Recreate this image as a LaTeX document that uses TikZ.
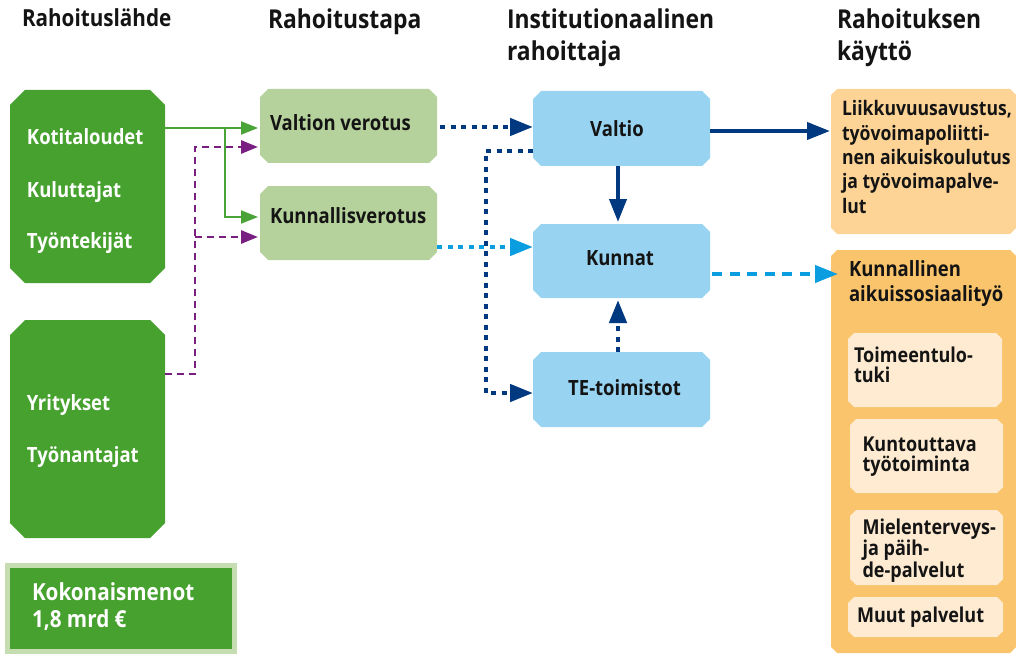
\documentclass[tikz,border=0pt]{standalone}
\usepackage{fontspec}
\setmainfont{Open Sans}[FakeStretch=0.88]
\usetikzlibrary{calc,arrows.meta}

\definecolor{srcgreen}{HTML}{47A12F}
\definecolor{taxgreen}{HTML}{B6D29C}
\definecolor{rimgreen}{HTML}{C5DDB0}
\definecolor{linegreen}{HTML}{4AA337}
\definecolor{boxblue}{HTML}{98D4F1}
\definecolor{navyline}{HTML}{00397F}
\definecolor{skyline}{HTML}{0A9EE0}
\definecolor{purpleline}{HTML}{7A1F82}
\definecolor{useorange}{HTML}{FDD496}
\definecolor{socorange}{HTML}{F9C46B}
\definecolor{servcream}{HTML}{FEEBD2}
\definecolor{inktext}{HTML}{141414}

% fill the outline of node #1 with corners cut by #2, in colour #3
\newcommand\cutbox[3]{%
  \fill[#3] ($(#1.north west)+(#2,0)$) -- ($(#1.north east)+(-#2,0)$)
    -- ($(#1.north east)+(0,#2)$) -- ($(#1.south east)+(0,-#2)$)
    -- ($(#1.south east)+(-#2,0)$) -- ($(#1.south west)+(#2,0)$)
    -- ($(#1.south west)+(0,-#2)$) -- ($(#1.north west)+(0,#2)$) -- cycle;}

\tikzset{
  slot/.style={rectangle, inner sep=0pt, outer sep=0pt, draw=none},
  txt/.style={anchor=base west, inner sep=0pt, outer sep=0pt, align=left,
    text=inktext, font=\bfseries\fontsize{21}{24.3}\selectfont},
  whitetxt/.style={txt, text=white},
  ctxt/.style={txt, anchor=base},
  smalltxt/.style={txt, font=\bfseries\fontsize{20.5}{20}\selectfont},
  hdr/.style={txt, font=\bfseries\fontsize{26}{32}\selectfont},
  smalltip/.style={-{Triangle[length=17pt,width=13pt]}},
  bigtip/.style={-{Triangle[length=23pt,width=17pt]}},
  gline/.style={draw=linegreen, line width=2pt, smalltip, shorten >=2pt},
  pline/.style={draw=purpleline, line width=2.8pt, dash pattern=on 7pt off 5pt,
    smalltip, shorten >=2pt},
  navydot/.style={draw=navyline, line width=4.5pt, dash pattern=on 5pt off 5.5pt, bigtip},
  navysolid/.style={draw=navyline, line width=4pt, bigtip},
  skydot/.style={draw=skyline, line width=4.5pt, dash pattern=on 5pt off 5.5pt, bigtip},
  skydash/.style={draw=skyline, line width=4pt, dash pattern=on 10pt off 7.5pt, bigtip},
}

\begin{document}
\begin{tikzpicture}[x=1pt,y=-1pt]
\useasboundingbox (0,0) rectangle (1016,655);

% box outlines
\node[slot, minimum width=155pt, minimum height=193pt] (src1) at (87.5,186.5) {};
\node[slot, minimum width=155pt, minimum height=218pt] (src2) at (87.5,429) {};
\node[slot, minimum width=177pt, minimum height=74pt] (valtvero) at (348.5,126) {};
\node[slot, minimum width=177pt, minimum height=74pt] (kunvero) at (348.5,223) {};
\node[slot, minimum width=177pt, minimum height=75pt] (valtio) at (621.5,128.5) {};
\node[slot, minimum width=177pt, minimum height=74pt] (kunnat) at (621.5,261) {};
\node[slot, minimum width=177pt, minimum height=75pt] (te) at (621.5,389.5) {};
\node[slot, minimum width=185pt, minimum height=145pt] (use1) at (923.5,161.5) {};
\node[slot, minimum width=185pt, minimum height=403pt] (use2) at (923.5,451.5) {};
\node[slot, minimum width=154pt, minimum height=74pt] (in1) at (925,370) {};
\node[slot, minimum width=153pt, minimum height=74pt] (in2) at (926.5,456) {};
\node[slot, minimum width=153pt, minimum height=75pt] (in3) at (926.5,547.5) {};
\node[slot, minimum width=155pt, minimum height=40pt] (in4) at (925.5,617) {};

\cutbox{src1}{15}{srcgreen}
\cutbox{src2}{15}{srcgreen}
\cutbox{valtvero}{8}{taxgreen}
\cutbox{kunvero}{8}{taxgreen}
\cutbox{valtio}{8}{boxblue}
\cutbox{kunnat}{8}{boxblue}
\cutbox{te}{8}{boxblue}
\cutbox{use1}{6}{useorange}
\cutbox{use2}{6}{socorange}
\cutbox{in1}{6}{servcream}
\cutbox{in2}{6}{servcream}
\cutbox{in3}{6}{servcream}
\cutbox{in4}{6}{servcream}

% total expenditure
\node[fill=srcgreen, draw=rimgreen, line width=5pt, minimum width=227pt,
      minimum height=86pt, inner sep=0pt] (total) at (121,608.5) {};
\node[whitetxt, font=\bfseries\fontsize{23.5}{27}\selectfont] (tt) at (32,627) {Kokonaismenot\\1,8 mrd €};

% column headings
\node[hdr, font=\bfseries\fontsize{23.5}{32}\selectfont] (h1) at (22,27) {Rahoituslähde};
\node[hdr] (h2) at (268,29) {Rahoitustapa};
\node[hdr] (h3) at (507,61) {Institutionaalinen\\rahoittaja};
\node[hdr] (h4) at (837,61) {Rahoituksen\\käyttö};

% sources of funding
\node[whitetxt] (t1) at (27,145) {Kotitaloudet};
\node[whitetxt] (t2) at (27,197) {Kuluttajat};
\node[whitetxt] (t3) at (27,248.5) {Työntekijät};
\node[whitetxt] (t4) at (27,410) {Yritykset};
\node[whitetxt] (t5) at (27,462) {Työnantajat};

% forms of funding
\node[txt] (tv1) at (270,131) {Valtion verotus};
\node[txt] (tv2) at (270,223.5) {Kunnallisverotus};

% institutional funders
\node[ctxt] (tf1) at (617,137) {Valtio};
\node[ctxt] (tf2) at (620,265.5) {Kunnat};
\node[ctxt] (tf3) at (624.5,395) {TE-toimistot};

% use of funding
\node[txt, font=\bfseries\fontsize{20}{24.3}\selectfont] (tu1) at (842,213.2) {Liikkuvuusavustus,\\työvoimapoliitti-\\nen aikuiskoulutus\\ja työvoimapalve-\\lut};
\node[txt, font=\bfseries\fontsize{21}{25}\selectfont] (tu2) at (849,301) {Kunnallinen\\aikuissosiaalityö};
\node[smalltxt] (ts1) at (854,382) {Toimeentulo-\\tuki};
\node[smalltxt] (ts2) at (862.5,471) {Kuntouttava\\työtoiminta};
\node[smalltxt, font=\bfseries\fontsize{20.5}{19}\selectfont] (ts3) at (862.5,577) {Mielenterveys-\\ja päih-\\de-palvelut};
\node[smalltxt] (ts4) at (857,622) {Muut palvelut};

% flows from households
\coordinate (gsplit) at (225,128);
\draw[gline] (src1.east |- 0,128) -- (valtvero.west |- 0,128);
\draw[gline] (gsplit) |- (kunvero.west |- 0,217);

% flows from companies
\coordinate (pup) at (195,147);
\coordinate (psplit) at (195,237);
\draw[pline] (src2.east |- 0,374) -| (pup) -- (valtvero.west |- pup);
\draw[pline] (psplit) -- (kunvero.west |- psplit);

% tax revenue to the funders
\draw[navydot, shorten <=3pt] (valtvero.east |- 0,127) -- (valtio.west |- 0,127);
\draw[skydot] (kunvero.east |- 0,247) -- (kunnat.west |- 0,247);
\coordinate (ncorner) at (486,393);
\draw[navydot] (valtio.west |- 0,151) -| (ncorner) -- (te.west |- ncorner);

% between the funders
\draw[navysolid, shorten >=2pt] (valtio.south -| 618,0) -- (kunnat.north -| 618,0);
\draw[navydot, shorten >=2pt] (te.north -| 618,0) -- (kunnat.south -| 618,0);

% to the uses
\draw[navysolid, shorten >=1pt] (valtio.east |- 0,131) -- (use1.west |- 0,131);
\draw[skydash, shorten >=-7pt, shorten <=2pt] (kunnat.east |- 0,274) -- (use2.west |- 0,274);
\end{tikzpicture}
\end{document}
